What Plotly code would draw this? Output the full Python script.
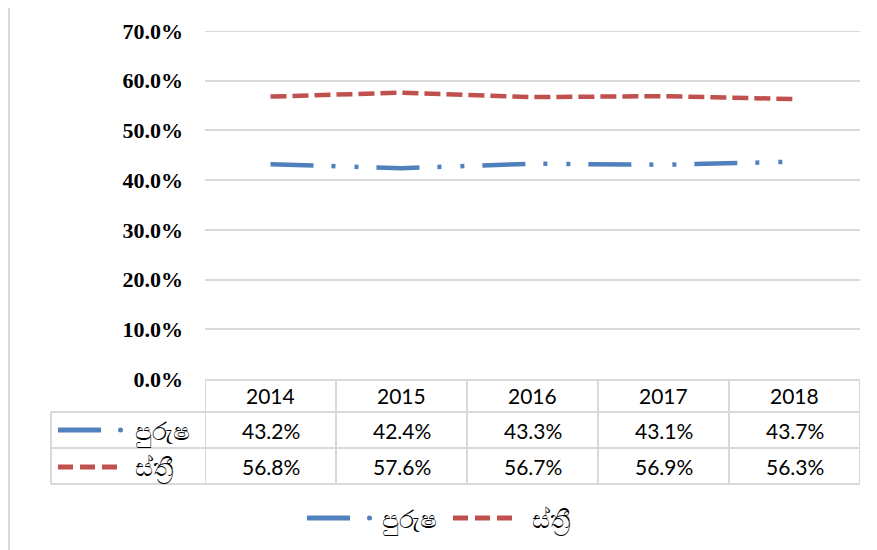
import plotly.graph_objects as go

years = ["2014", "2015", "2016", "2017", "2018"]
male = [43.2, 42.4, 43.3, 43.1, 43.7]
female = [56.8, 57.6, 56.7, 56.9, 56.3]
male_name = "පුරුෂ"
female_name = "ස්ත්‍රී"
y_ticks = [0, 10, 20, 30, 40, 50, 60, 70]
y_tick_labels = ["0.0%", "10.0%", "20.0%", "30.0%", "40.0%", "50.0%", "60.0%", "70.0%"]

BLUE = "#4F81BD"
RED = "#C0504D"
GRID = "#D9D9D9"

# the page body adds an 8px margin, so the figure is a bit smaller
OFF = 8
W, H = 877 - OFF, 550 - OFF
# plot area in screen pixels
X0, X1, Y0, Y1 = 205, 860, 31, 379
L, R, T, B = X0 - OFF, 877 - X1, Y0 - OFF, 550 - Y1


def px_x(p):
    return (p - X0) / (X1 - X0)


def px_y(p):
    return (Y1 - p) / (Y1 - Y0)


fig = go.Figure()
fig.add_trace(go.Scatter(
    x=years, y=male, name=male_name, mode="lines",
    line=dict(color=BLUE, width=4.5, dash="43px,18px,4px,19px,4px,18px"),
    showlegend=False,
))
fig.add_trace(go.Scatter(
    x=years, y=female, name=female_name, mode="lines",
    line=dict(color=RED, width=4.5, dash="16px,6px"),
    showlegend=False,
))

shapes = []


def seg(x0, y0, x1, y1, color=GRID, width=2, xref="paper"):
    shapes.append(dict(type="line", xref=xref, yref="paper",
                       x0=x0, x1=x1, y0=px_y(y0), y1=px_y(y1),
                       line=dict(color=color, width=width)))


# top gridline sits on the plot edge, plotly skips it
shapes.append(dict(type="line", xref="paper", yref="y", x0=0, x1=1,
                   y0=y_ticks[-1], y1=y_ticks[-1], layer="below",
                   line=dict(color=GRID, width=2)))

# data table grid
for yy in [412, 448, 484]:
    seg(px_x(51), yy, px_x(860), yy)
seg(px_x(51), 412, px_x(51), 484)
for i in range(len(years) + 1):
    seg(i - 0.5, 379, i - 0.5, 484, xref="x")

annotations = []
cell_font = dict(family="Lato", size=21, color="black")
for i, yr in enumerate(years):
    annotations.append(dict(
        x=i, xref="x", y=px_y(395), yref="paper", text=yr,
        showarrow=False, font=cell_font, xanchor="center", yanchor="middle",
    ))
row_y = [430, 467]
for vals, yy in zip([male, female], row_y):
    for i, v in enumerate(vals):
        annotations.append(dict(
            x=i, xref="x", y=px_y(yy), yref="paper", text=f"{v:.1f}%",
            showarrow=False, font=cell_font, xanchor="center", yanchor="middle",
        ))


def key_male(x0, yy):
    seg(px_x(x0), yy, px_x(x0 + 43), yy, BLUE, 5)
    shapes.append(dict(type="circle", xref="paper", yref="paper",
                       x0=px_x(x0 + 60), x1=px_x(x0 + 65),
                       y0=px_y(yy + 2.5), y1=px_y(yy - 2.5),
                       fillcolor=BLUE, line=dict(width=0)))


def key_female(x0, yy):
    for k in range(3):
        seg(px_x(x0 + k * 22), yy, px_x(x0 + k * 22 + 15), yy, RED, 5)


def label(text, x0, yy):
    annotations.append(dict(
        x=px_x(x0), xref="paper", y=px_y(yy), yref="paper", text=text,
        showarrow=False, font=dict(family="Noto Sans", size=25, color="black"),
        xanchor="left", yanchor="middle",
    ))


key_male(58, 430)
label(male_name, 133, 430)
key_female(58, 467)
label(female_name, 133, 467)

# bottom legend
key_male(307, 518)
label(male_name, 380, 518)
key_female(453, 518)
label(female_name, 530, 518)

# outer border
shapes.append(dict(type="rect", xref="paper", yref="paper",
                   x0=px_x(OFF + 1), x1=px_x(890), y0=px_y(3), y1=px_y(560),
                   line=dict(color=GRID, width=2)))

fig.update_xaxes(
    type="category", range=[-0.5, len(years) - 0.5],
    showgrid=False, zeroline=False, showline=True, linecolor=GRID, linewidth=2,
    ticks="", showticklabels=False,
)
fig.update_yaxes(
    range=[0, 70], tickvals=y_ticks, ticktext=y_tick_labels,
    showgrid=True, gridcolor=GRID, gridwidth=2, zeroline=False, showline=False,
    ticks="", ticklabelstandoff=21,
    tickfont=dict(family="Liberation Serif", size=22, color="black", weight="bold"),
)
fig.update_layout(
    width=W, height=H, margin=dict(l=L, r=R, t=T, b=B),
    plot_bgcolor="white", paper_bgcolor="white",
    shapes=shapes, annotations=annotations,
)
fig.write_html("out.html")
